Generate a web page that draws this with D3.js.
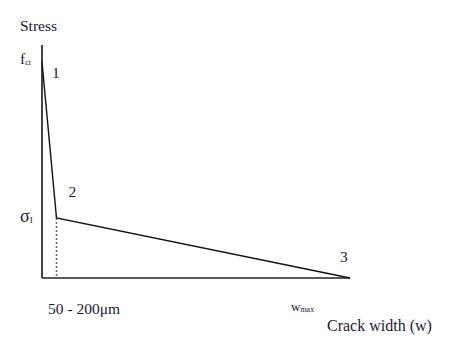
<!DOCTYPE html>
<html>
<head>
<meta charset="utf-8">
<script src="https://cdn.jsdelivr.net/npm/d3@7"></script>
<style>
  html, body { margin: 0; padding: 0; background: #fff; }
  svg text { font-family: "Liberation Serif", "DejaVu Serif", serif; fill: #1a1a33; }
</style>
</head>
<body>
<svg id="chart" width="461" height="342"></svg>
<script>
// Tri-linear softening law: normalised crack width vs normalised stress
const pointLabels = ["1", "2", "3"];
const crackWidth = [0, 0.047, 1];
const stress = [0.927, 0.258, 0];

const svg = d3.select("#chart");
const x = d3.scaleLinear().domain([0, 1]).range([42, 350]);
const y = d3.scaleLinear().domain([0, 1]).range([278, 45]);

// axes (plain lines, no ticks)
svg.append("line")
  .attr("x1", x(0)).attr("x2", x(0))
  .attr("y1", y(0)).attr("y2", y(1))
  .attr("stroke", "#444").attr("stroke-width", 2);
svg.append("line")
  .attr("x1", x(0)).attr("x2", x(1))
  .attr("y1", y(0)).attr("y2", y(0))
  .attr("stroke", "#222").attr("stroke-width", 1.5);

// dotted drop line from the kink point
svg.append("line")
  .attr("x1", x(crackWidth[1])).attr("x2", x(crackWidth[1]))
  .attr("y1", y(stress[1])).attr("y2", y(0))
  .attr("stroke", "#666").attr("stroke-width", 1.5)
  .attr("stroke-dasharray", "2,2");

// softening curve
const pts = crackWidth.map((w, i) => [w, stress[i]]);
svg.append("path")
  .datum(pts)
  .attr("fill", "none")
  .attr("stroke", "#111")
  .attr("stroke-width", 1.4)
  .attr("d", d3.line().x(d => x(d[0])).y(d => y(d[1])));

// point numbers
const labelOffsets = [[10, 16], [12, -21], [-10, -16]];
svg.selectAll("text.pt")
  .data(pts)
  .join("text")
  .attr("class", "pt")
  .attr("x", (d, i) => x(d[0]) + labelOffsets[i][0])
  .attr("y", (d, i) => y(d[1]) + labelOffsets[i][1])
  .attr("font-size", 15.5)
  .text((d, i) => pointLabels[i]);

// axis titles and annotations
svg.append("text").attr("x", 20).attr("y", 31).attr("font-size", 15.5).text("Stress");

const fct = svg.append("text").attr("x", 20).attr("y", y(stress[0]) + 2).attr("font-size", 15.5);
fct.append("tspan").text("f");
fct.append("tspan").attr("font-size", 8).attr("dy", 1).text("ct");

const sig = svg.append("text").attr("x", 20).attr("y", y(stress[1]) + 4).attr("font-size", 18);
sig.append("tspan").text("σ");
sig.append("tspan").attr("font-size", 9).attr("dy", 1).text("I");

svg.append("text").attr("x", 48).attr("y", 314).attr("font-size", 15.5).text("50 - 200μm");

const wmax = svg.append("text").attr("x", 291).attr("y", 311).attr("font-size", 13);
wmax.append("tspan").text("w");
wmax.append("tspan").attr("font-size", 8).attr("dy", 1).text("max");

svg.append("text").attr("x", 327).attr("y", 331).attr("font-size", 16).text("Crack width (w)");
</script>
</body>
</html>
